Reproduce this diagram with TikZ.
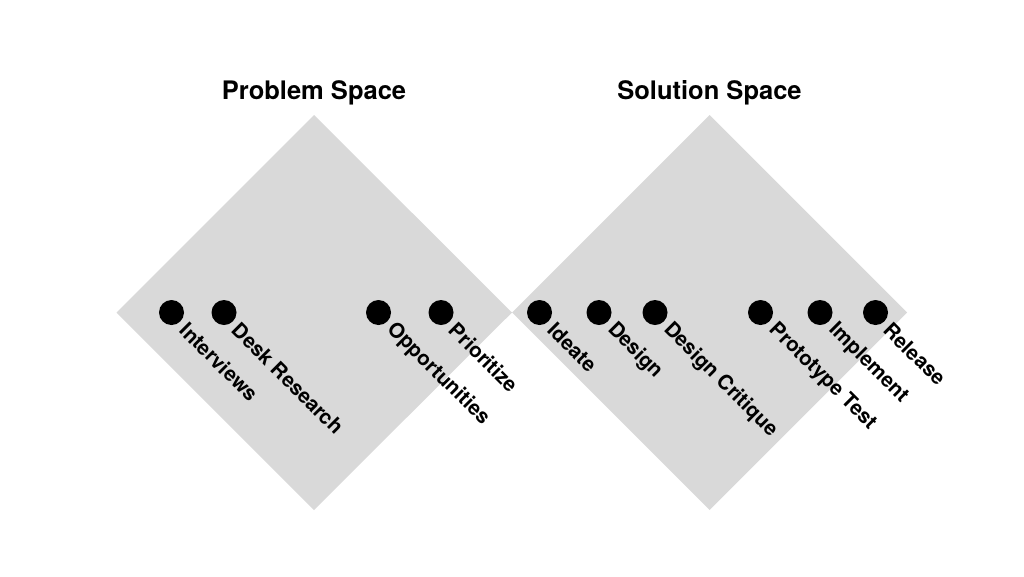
\documentclass[tikz,border=0pt]{standalone}
\usepackage{fontspec}
\setmainfont{TeX Gyre Heros}
\usetikzlibrary{calc}
\definecolor{diamondgray}{HTML}{D9D9D9}
\tikzset{
  space/.style={fill=diamondgray, draw=none},
  dot/.style={circle, fill=black, minimum size=25pt, inner sep=0pt},
  steplabel/.style={anchor=west, rotate=-45, inner sep=0pt, font=\fontsize{20.5}{24}\selectfont\bfseries},
  title/.style={font=\fontsize{25.5}{30}\selectfont\bfseries, inner sep=0pt}
}
\begin{document}
\begin{tikzpicture}[x=1pt,y=-1pt]
\useasboundingbox (0,0) rectangle (1024,576);
% diamonds
\fill[space] (314,115) -- (512,312.5) -- (314,510) -- (116.5,312.5) -- cycle;
\fill[space] (709.5,115) -- (907,312.5) -- (709.5,510) -- (512,312.5) -- cycle;
% titles
\node[title] (tp) at (314,93) {Problem Space};
\node[title] (ts) at (709.5,93) {Solution Space};
% dots
\node[dot] (d1) at (171.5,312.5) {};
\node[dot] (d2) at (224,312.5) {};
\node[dot] (d3) at (378.5,312.5) {};
\node[dot] (d4) at (441,312.5) {};
\node[dot] (d5) at (539.5,312.5) {};
\node[dot] (d6) at (599,312.5) {};
\node[dot] (d7) at (655,312.5) {};
\node[dot] (d8) at (760.5,312.5) {};
\node[dot] (d9) at (820,312.5) {};
\node[dot] (d10) at (875.5,312.5) {};
% labels
\node[steplabel] (l1) at ($(d1)+(12,14)$) {Interviews};
\node[steplabel] (l2) at ($(d2)+(12,14)$) {Desk Research};
\node[steplabel] (l3) at ($(d3)+(12,14)$) {Opportunities};
\node[steplabel] (l4) at ($(d4)+(12,14)$) {Prioritize};
\node[steplabel] (l5) at ($(d5)+(12,14)$) {Ideate};
\node[steplabel] (l6) at ($(d6)+(12,14)$) {Design};
\node[steplabel] (l7) at ($(d7)+(12,14)$) {Design Critique};
\node[steplabel] (l8) at ($(d8)+(12,14)$) {Prototype Test};
\node[steplabel] (l9) at ($(d9)+(12,14)$) {Implement};
\node[steplabel] (l10) at ($(d10)+(12,14)$) {Release};
\end{tikzpicture}
\end{document}
